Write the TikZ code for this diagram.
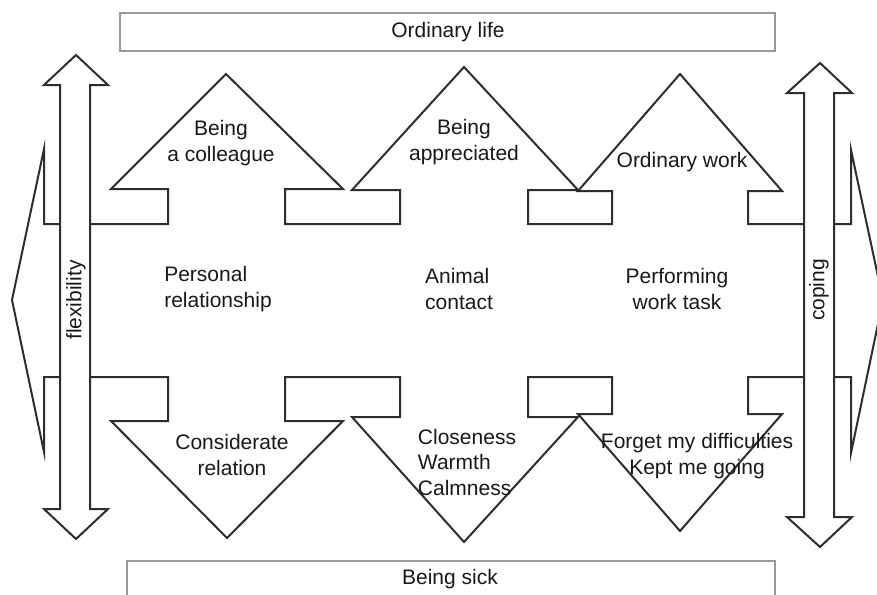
\documentclass[tikz,border=0pt]{standalone}
\usepackage{fontspec}
\setmainfont{Liberation Sans}
\begin{document}
\begin{tikzpicture}[x=1pt,y=-1pt,
  outline/.style={draw=black!82, line width=2pt, fill=white, line join=miter},
  framebox/.style={draw=black!40, line width=1.6pt, fill=white},
  lbl/.style={font=\fontsize{21}{25.5}\selectfont, text=black!90, align=center, inner sep=0pt},
  lbll/.style={lbl, align=left}]
\useasboundingbox (0,0) rectangle (877,594);
\clip (0,0) rectangle (877,594);
\fill[white] (0,0) rectangle (877,594);

% frames
\draw[framebox] (120,13) rectangle (775,51);
\node[lbl] (life) at (448,32) {Ordinary life};
\draw[framebox] (127,561) rectangle (775,610);
\node[lbl] (sick) at (450,579) {Being sick};

% central cross
\draw[outline] (12,300) -- (44,149) -- (44,224) -- (168,224) -- (168,189) -- (111,189) -- (226,74) -- (343,189) -- (285,189) -- (285,224)
  -- (400,224) -- (400,190) -- (352,190) -- (464,67) -- (578,190) -- (528,190) -- (528,224)
  -- (612,224) -- (612,191) -- (578,191) -- (680,74) -- (782,191) -- (748,191) -- (748,224)
  -- (851,224) -- (851,150) -- (883,300) -- (851,453) -- (851,377)
  -- (748,377) -- (748,414) -- (782,414) -- (680,531) -- (578,414) -- (612,414) -- (612,377)
  -- (528,377) -- (528,417) -- (578,417) -- (464,542) -- (352,417) -- (400,417) -- (400,377)
  -- (285,377) -- (285,421) -- (343,421) -- (227,538) -- (111,421) -- (168,421) -- (168,377)
  -- (44,377) -- (44,452) -- cycle;

% double arrows
\draw[outline] (76,55) -- (108,85) -- (90,85) -- (90,509) -- (108,509) -- (76,539) -- (44,509) -- (60,509) -- (60,85) -- (44,85) -- cycle;
\draw[outline] (820,63) -- (852,93) -- (834,93) -- (834,517) -- (852,517) -- (820,547) -- (787,517) -- (804,517) -- (804,93) -- (787,93) -- cycle;

\node[lbl, rotate=90] (flex) at (76,300) {flexibility};
\node[lbl, rotate=90] (cop) at (819,290) {coping};

% labels
\node[lbl] (up1) at (221,143) {Being\\a colleague};
\node[lbl] (up2) at (464,142) {Being\\appreciated};
\node[lbl] (up3) at (682,162) {Ordinary work};
\node[lbll] (mid1) at (218,289) {Personal\\relationship};
\node[lbll] (mid2) at (459,289) {Animal\\contact};
\node[lbl] (mid3) at (677,289) {Performing\\work task};
\node[lbl] (low1) at (232,455) {Considerate\\relation};
\node[lbll] (low2) at (467,462) {Closeness\\Warmth\\Calmness};
\node[lbl] (low3) at (697,456) {Forget my difficulties\\Kept me going};
\end{tikzpicture}
\end{document}
